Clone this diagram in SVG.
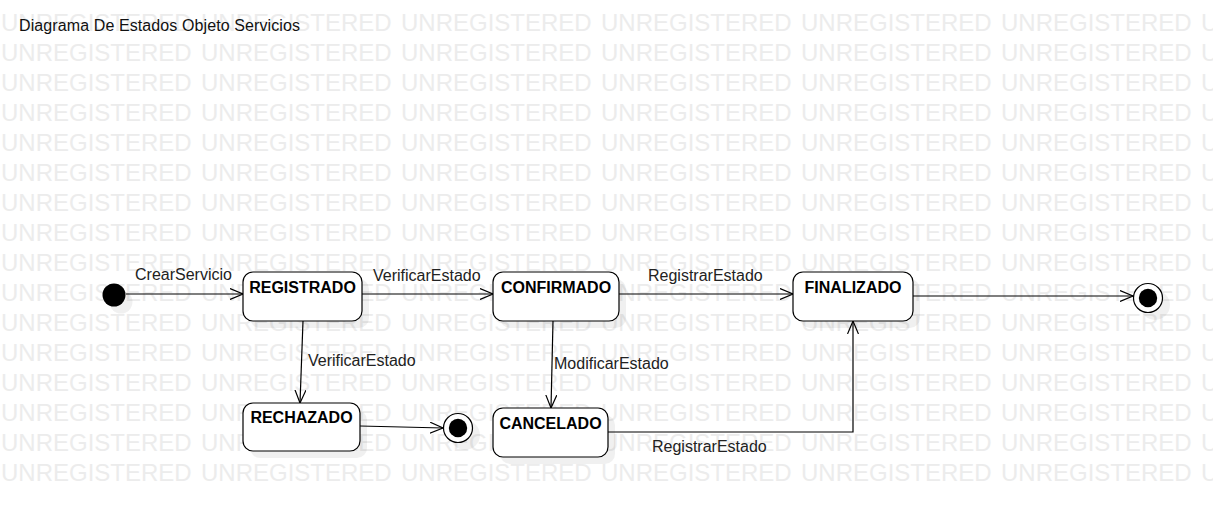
<svg xmlns="http://www.w3.org/2000/svg" xmlns:xlink="http://www.w3.org/1999/xlink" width="1213" height="507" viewBox="0 0 1213 507">
<style>
.wm{font-family:"Liberation Sans",Arial,sans-serif;font-size:24px;fill:#ececec}
.title{font-family:"Liberation Sans",Arial,sans-serif;font-size:16px;fill:#111}
.lbl{font-family:"Liberation Sans",Arial,sans-serif;font-size:16px;fill:#222}
.nname{font-family:"Liberation Sans",Arial,sans-serif;font-size:16px;font-weight:bold;fill:#000;text-anchor:middle}
.box{fill:#fff;stroke:#000;stroke-width:1.2}
.shadow{fill:#000;fill-opacity:0.06}
.edge{fill:none;stroke:#000;stroke-width:1.2}
</style>
<defs>
<marker id="arr" viewBox="0 0 14 12" refX="13" refY="6" markerWidth="14" markerHeight="12" markerUnits="userSpaceOnUse" orient="auto">
<path d="M0,0.5 L13,6 L0,11.5" fill="none" stroke="#000" stroke-width="1.2"/>
</marker>
<text id="wmrow" class="wm" y="31"><tspan x="1">UNREGISTERED</tspan><tspan x="201">UNREGISTERED</tspan><tspan x="401">UNREGISTERED</tspan><tspan x="601">UNREGISTERED</tspan><tspan x="801">UNREGISTERED</tspan><tspan x="1001">UNREGISTERED</tspan><tspan x="1201">UNREGISTERED</tspan></text>
</defs>
<rect width="1213" height="507" fill="#fff"/>
<g id="watermark">
<use xlink:href="#wmrow" y="0"/><use xlink:href="#wmrow" y="30"/><use xlink:href="#wmrow" y="60"/><use xlink:href="#wmrow" y="90"/>
<use xlink:href="#wmrow" y="120"/><use xlink:href="#wmrow" y="150"/><use xlink:href="#wmrow" y="180"/><use xlink:href="#wmrow" y="210"/>
<use xlink:href="#wmrow" y="240"/><use xlink:href="#wmrow" y="270"/><use xlink:href="#wmrow" y="300"/><use xlink:href="#wmrow" y="330"/>
<use xlink:href="#wmrow" y="360"/><use xlink:href="#wmrow" y="390"/><use xlink:href="#wmrow" y="420"/><use xlink:href="#wmrow" y="450"/>
</g>
<text id="title" class="title" x="19" y="31" textLength="281" lengthAdjust="spacing">Diagrama De Estados Objeto Servicios</text>
<g id="shadows">
<circle class="shadow" cx="121" cy="302" r="11.5"/>
<rect class="shadow" x="250" y="279" width="119" height="49" rx="10"/>
<rect class="shadow" x="500" y="279" width="126" height="49" rx="10"/>
<rect class="shadow" x="800" y="279" width="120" height="49" rx="10"/>
<rect class="shadow" x="250" y="410" width="117" height="48" rx="10"/>
<rect class="shadow" x="500" y="415" width="115" height="49" rx="10"/>
<circle class="shadow" cx="465" cy="435" r="15"/>
<circle class="shadow" cx="1155" cy="305" r="15"/>
</g>
<g id="connectors">
<path class="edge" d="M126,294 L243,294" marker-end="url(#arr)"/>
<path class="edge" d="M362,294 L493,294" marker-end="url(#arr)"/>
<path class="edge" d="M619,294 L793,294" marker-end="url(#arr)"/>
<path class="edge" d="M913,296 L1133,296" marker-end="url(#arr)"/>
<path class="edge" d="M303,321 L300,403" marker-end="url(#arr)"/>
<path class="edge" d="M360,426 L443,428" marker-end="url(#arr)"/>
<path class="edge" d="M553,321 L551,408" marker-end="url(#arr)"/>
<path class="edge" d="M608,432 L853,432 L853,321" marker-end="url(#arr)"/>
<text class="lbl" x="135" y="280">CrearServicio</text>
<text class="lbl" x="373" y="281">VerificarEstado</text>
<text class="lbl" x="648" y="281">RegistrarEstado</text>
<text class="lbl" x="308" y="366">VerificarEstado</text>
<text class="lbl" x="554" y="369">ModificarEstado</text>
<text class="lbl" x="652" y="452">RegistrarEstado</text>
</g>
<g id="initial">
<circle cx="114" cy="295" r="11.5" fill="#000"/>
</g>
<g id="registrado">
<rect class="box" x="243" y="272" width="119" height="49" rx="10"/>
<text class="nname" x="302.5" y="293">REGISTRADO</text>
</g>
<g id="confirmado">
<rect class="box" x="493" y="272" width="126" height="49" rx="10"/>
<text class="nname" x="556" y="293">CONFIRMADO</text>
</g>
<g id="finalizado">
<rect class="box" x="793" y="272" width="120" height="49" rx="10"/>
<text class="nname" x="853" y="293">FINALIZADO</text>
</g>
<g id="rechazado">
<rect class="box" x="243" y="403" width="117" height="48" rx="10"/>
<text class="nname" x="301.5" y="423">RECHAZADO</text>
</g>
<g id="cancelado">
<rect class="box" x="493" y="408" width="115" height="49" rx="10"/>
<text class="nname" x="550.5" y="429">CANCELADO</text>
</g>
<g id="final1">
<circle cx="458" cy="428" r="14.5" fill="#fff" stroke="#000" stroke-width="1.2"/>
<circle cx="458" cy="428" r="9.2" fill="#000"/>
</g>
<g id="final2">
<circle cx="1148" cy="298" r="14.5" fill="#fff" stroke="#000" stroke-width="1.2"/>
<circle cx="1148" cy="298" r="9.2" fill="#000"/>
</g>
</svg>
